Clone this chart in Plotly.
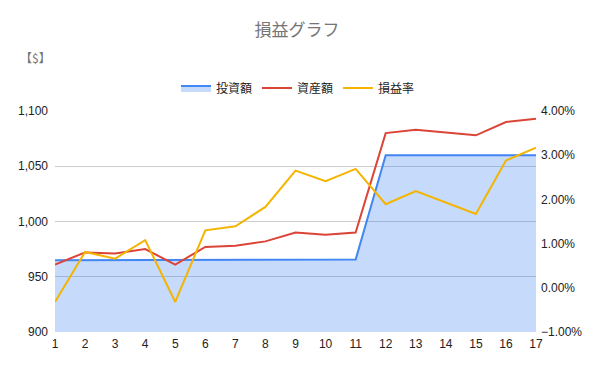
import plotly.graph_objects as go

x_vals = list(range(1, 18))
invest = [965, 965, 965, 965, 965, 965, 965, 965, 965, 965, 965.5, 1060, 1060, 1060, 1060, 1060, 1060]
assets = [961, 972, 971, 975, 961, 977, 978, 982, 990, 988, 990, 1080, 1083, 1080.5, 1078, 1090, 1093]
rate_pct = [-0.32, 0.81, 0.66, 1.08, -0.32, 1.30, 1.39, 1.83, 2.65, 2.41, 2.69, 1.89, 2.19, 1.93, 1.67, 2.88, 3.17]
rate = [v / 100 for v in rate_pct]

names = ["投資額", "資産額", "損益率"]
colors = ["#4285f4", "#db4437", "#f4b400"]
left_ticks = [900, 950, 1000, 1050, 1100]
right_ticks = [-0.01, 0, 0.01, 0.02, 0.03, 0.04]

font_fam = "Arial, 'Liberation Sans', 'Noto Sans CJK JP', sans-serif"

# page has an 8px body margin, so the figure is sized to fit inside the window
W, H = 584, 355
L, T, B = 47, 103, 31
R = W - 528

fig = go.Figure()
fig.add_trace(go.Scatter(x=x_vals, y=invest, name=names[0], mode="lines",
                         line=dict(color=colors[0], width=2), fill="tozeroy",
                         fillcolor="rgba(66,133,244,0.3)"))
fig.add_trace(go.Scatter(x=x_vals, y=assets, name=names[1], mode="lines",
                         line=dict(color=colors[1], width=2)))
fig.add_trace(go.Scatter(x=x_vals, y=rate, name=names[2], mode="lines",
                         line=dict(color=colors[2], width=2), yaxis="y2"))

fig.update_layout(
    width=W, height=H,
    margin=dict(l=L, r=R, t=T, b=B, autoexpand=False),
    paper_bgcolor="white", plot_bgcolor="white",
    font=dict(family=font_fam, size=12, color="#222222"),
    title=dict(text="損益グラフ", x=289 / W, xanchor="center", y=1 - 22 / H, yanchor="middle",
               font=dict(family="'Noto Sans CJK JP', sans-serif", size=17, color="#757575")),
    showlegend=True,
    legend=dict(orientation="h", x=290 / W, xanchor="center", xref="container",
                y=1 - 80 / H, yref="container", yanchor="middle",
                font=dict(family="'Noto Sans CJK JP', sans-serif", size=12, color="#222222"),
                itemwidth=30, traceorder="normal"),
    xaxis=dict(range=[1, 17], tickvals=x_vals, showgrid=False, zeroline=False,
               showline=False, ticks="", tickfont=dict(size=12, color="#222222"),
               ticklabelstandoff=3, automargin=False),
    yaxis=dict(range=[900, 1100], tickvals=left_ticks, tickformat=",d",
               showgrid=True, gridcolor="#cccccc", gridwidth=1, zeroline=False,
               ticks="", tickfont=dict(size=12, color="#222222"), ticklabelstandoff=6,
               automargin=False),
    yaxis2=dict(range=[-0.01, 0.04], tickvals=right_ticks, tickformat=".2%",
                overlaying="y", side="right", showgrid=False, zeroline=False,
                ticks="", tickfont=dict(size=12, color="#222222"), ticklabelstandoff=4,
                automargin=False),
    annotations=[dict(text="【$】", xref="paper", yref="paper", x=(10 - L) / (W - L - R),
                      xanchor="left", y=(324 - 50) / (H - T - B), yanchor="middle", showarrow=False,
                      font=dict(family="'Noto Sans CJK JP', sans-serif", size=12, color="#757575"))],
)

fig.write_html("out.html")
